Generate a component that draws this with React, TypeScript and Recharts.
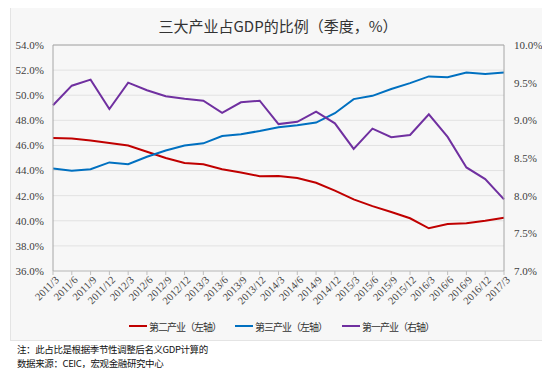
import React from 'react';
import { LineChart, Line, XAxis, YAxis, CartesianGrid, ReferenceLine } from 'recharts';

const categories = [
  '2011/3', '2011/6', '2011/9', '2011/12',
  '2012/3', '2012/6', '2012/9', '2012/12',
  '2013/3', '2013/6', '2013/9', '2013/12',
  '2014/3', '2014/6', '2014/9', '2014/12',
  '2015/3', '2015/6', '2015/9', '2015/12',
  '2016/3', '2016/6', '2016/9', '2016/12',
  '2017/3',
];

// 第二产业（左轴）
const secondary = [
  46.6, 46.55, 46.4, 46.2,
  46.0, 45.5, 45.0, 44.6,
  44.5, 44.1, 43.85, 43.55,
  43.57, 43.4, 43.03, 42.4,
  41.7, 41.17, 40.7, 40.2,
  39.4, 39.75, 39.8, 40.0,
  40.25,
];

// 第三产业（左轴）
const tertiary = [
  44.17, 43.98, 44.1, 44.65,
  44.5, 45.1, 45.6, 46.0,
  46.17, 46.75, 46.9, 47.15,
  47.45, 47.6, 47.82, 48.57,
  49.69, 49.95, 50.5, 50.96,
  51.5, 51.44, 51.81, 51.7,
  51.8,
];

// 第一产业（右轴）
const primary = [
  9.2, 9.46, 9.54, 9.15,
  9.5, 9.4, 9.32, 9.285,
  9.26, 9.1, 9.24, 9.26,
  8.95, 8.98, 9.115, 8.96,
  8.62, 8.89, 8.775, 8.805,
  9.08, 8.78, 8.375, 8.22,
  7.95,
];

const leftTicks = [36, 38, 40, 42, 44, 46, 48, 50, 52, 54];
const rightTicks = [7, 7.5, 8, 8.5, 9, 9.5, 10];

const seriesNames = ['第二产业（左轴）', '第三产业（左轴）', '第一产业（右轴）'];
const seriesColors = ['#C00000', '#0070C0', '#7030A0'];

const data = categories.map((c, i) => ({
  cat: c,
  secondary: secondary[i],
  tertiary: tertiary[i],
  primary: primary[i],
}));

const serif = '"Liberation Serif", "DejaVu Serif", serif';
const cjk = '"Noto Sans CJK SC", "Noto Sans", sans-serif';

const XTick = (props: any) => {
  const { x, y, payload } = props;
  return (
    <text
      transform={`translate(${x + 4},${y + 1}) rotate(-45)`}
      textAnchor="end"
      dy="0.35em"
      fontFamily={serif}
      fontSize={10.5}
      fill="#404040"
    >
      {payload.value}
    </text>
  );
};

const legendPos = [129, 235, 342];

export default function App() {
  return (
    <div style={{ position: 'relative', width: 550, height: 376, margin: -8, overflow: 'hidden', background: '#fff' }}>
      <div
        style={{
          position: 'absolute', left: 10, top: 6, width: 538, height: 335,
          background: '#f7f7f7', border: '1px solid #e4e4e4', boxSizing: 'border-box',
        }}
      />
      <div
        style={{
          position: 'absolute', left: 0, width: 550, top: 16, textAlign: 'center',
          fontFamily: cjk, fontSize: 15, color: '#333', lineHeight: '20px', paddingLeft: 3,
        }}
      >
        三大产业占GDP的比例（季度，%）
      </div>
      <div style={{ position: 'absolute', left: 0, top: 0 }}>
        <LineChart
          width={550}
          height={376}
          data={data}
          margin={{ top: 45, right: 0, left: 8, bottom: 45 }}
        >
          <CartesianGrid yAxisId="left" vertical={false} stroke="#e2e2e2" strokeWidth={1} />
          <XAxis
            dataKey="cat"
            interval={0}
            height={60}
            tick={(p: any) => <XTick {...p} />}
            tickSize={4}
            tickLine={{ stroke: '#bfbfbf' }}
            axisLine={{ stroke: '#bfbfbf' }}
          />
          <YAxis
            yAxisId="left"
            orientation="left"
            domain={[36, 54]}
            ticks={leftTicks}
            width={45}
            tickLine={false}
            tickMargin={3}
            axisLine={{ stroke: '#a6a6a6' }}
            tickFormatter={(v: number) => v.toFixed(1) + '%'}
            tick={{ fontFamily: serif, fontSize: 11, fill: '#404040' }}
            allowDataOverflow
          />
          <YAxis
            yAxisId="right"
            orientation="right"
            domain={[7, 10]}
            ticks={rightTicks}
            width={46}
            tickLine={false}
            tickMargin={4}
            axisLine={{ stroke: '#a6a6a6' }}
            tickFormatter={(v: number) => v.toFixed(1) + '%'}
            tick={{ fontFamily: serif, fontSize: 11, fill: '#404040', textAnchor: 'start' }}
            allowDataOverflow
          />
          <ReferenceLine yAxisId="left" y={54} stroke="#a6a6a6" />
          <Line
            yAxisId="left"
            type="linear"
            dataKey="secondary"
            name={seriesNames[0]}
            stroke={seriesColors[0]}
            strokeWidth={2}
            dot={false}
            isAnimationActive={false}
          />
          <Line
            yAxisId="left"
            type="linear"
            dataKey="tertiary"
            name={seriesNames[1]}
            stroke={seriesColors[1]}
            strokeWidth={2}
            dot={false}
            isAnimationActive={false}
          />
          <Line
            yAxisId="right"
            type="linear"
            dataKey="primary"
            name={seriesNames[2]}
            stroke={seriesColors[2]}
            strokeWidth={2}
            dot={false}
            isAnimationActive={false}
          />
        </LineChart>
      </div>
      {seriesNames.map((n, i) => (
        <div
          key={n}
          style={{
            position: 'absolute', left: legendPos[i], top: 318, height: 16,
            display: 'flex', alignItems: 'center',
            fontFamily: cjk, fontSize: 10, color: '#333', letterSpacing: -1, whiteSpace: 'nowrap',
          }}
        >
          <span style={{ display: 'inline-block', width: 18, height: 2, background: seriesColors[i], marginRight: 2 }} />
          <span>{n}</span>
        </div>
      ))}
      <div
        style={{
          position: 'absolute', left: 17, top: 342, fontFamily: cjk, fontSize: 9.5,
          color: '#111', letterSpacing: -0.4, whiteSpace: 'nowrap', lineHeight: '14px',
        }}
      >
        注：此占比是根据季节性调整后名义GDP计算的
      </div>
      <div
        style={{
          position: 'absolute', left: 17, top: 356, fontFamily: cjk, fontSize: 9.5,
          color: '#111', letterSpacing: -0.4, whiteSpace: 'nowrap', lineHeight: '14px',
        }}
      >
        数据来源：CEIC，宏观金融研究中心
      </div>
    </div>
  );
}
